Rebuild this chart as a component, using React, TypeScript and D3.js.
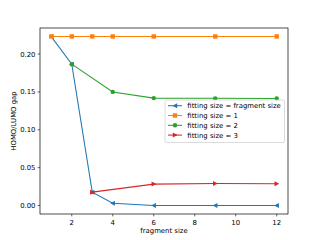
import React from "react";
import * as d3 from "d3";

const xBlue = [1, 2, 3, 4, 6, 9, 12];
const yBlue = [0.223, 0.1866, 0.0177, 0.003, 0.0, 0.0, 0.0];
const xOrange = [1, 2, 3, 4, 6, 9, 12];
const yOrange = [0.2232, 0.2232, 0.2232, 0.2232, 0.2232, 0.2232, 0.2232];
const xGreen = [2, 4, 6, 9, 12];
const yGreen = [0.1866, 0.150, 0.1418, 0.1415, 0.1413];
const xRed = [3, 6, 9, 12];
const yRed = [0.0177, 0.0283, 0.029, 0.0287];
const seriesNames = ["fitting size = fragment size", "fitting size = 1", "fitting size = 2", "fitting size = 3"];
const xTicks = [2, 4, 6, 8, 10, 12];
const yTicks = [0.0, 0.05, 0.1, 0.15, 0.2];

const colors = ["#1f77b4", "#ff7f0e", "#2ca02c", "#d62728"];
const markers = ["tri-left", "square", "circle", "tri-right"];

function Marker({ type, x, y, color }: { type: string; x: number; y: number; color: string }) {
  const r = 2.2;
  if (type === "square") return <rect x={x - r} y={y - r} width={2 * r} height={2 * r} fill={color} />;
  if (type === "circle") return <circle cx={x} cy={y} r={r} fill={color} />;
  if (type === "tri-left")
    return <path d={`M${x - r - 0.4},${y} L${x + r},${y - r - 0.3} L${x + r},${y + r + 0.3} Z`} fill={color} />;
  return <path d={`M${x + r + 0.4},${y} L${x - r},${y - r - 0.3} L${x - r},${y + r + 0.3} Z`} fill={color} />;
}

export default function App() {
  const L = 40, R = 288, T = 28, B = 214;
  const x = d3.scaleLinear().domain([0.45, 12.55]).range([L, R]);
  const y = d3.scaleLinear().domain([-0.01116, 0.23436]).range([B, T]);
  const series = [
    { xs: xBlue, ys: yBlue },
    { xs: xOrange, ys: yOrange },
    { xs: xGreen, ys: yGreen },
    { xs: xRed, ys: yRed },
  ];
  const line = d3.line<[number, number]>().x((d) => x(d[0])).y((d) => y(d[1]));
  const font = "DejaVu Sans";
  const fs = 6.9;
  const legX = 165, legY = 100, legW = 119.5, legH = 42.5;
  return (
    <svg width={320} height={240} style={{ position: "absolute", left: 0, top: 0 }} fontFamily={font}>
      <rect x={0} y={0} width={320} height={240} fill="#fff" />
      {series.map((s, i) => {
        const pts = s.xs.map((v, j) => [v, s.ys[j]] as [number, number]);
        return (
          <g key={i}>
            <path d={line(pts) || ""} fill="none" stroke={colors[i]} strokeWidth={1.05} />
            {pts.map((p, j) => (
              <Marker key={j} type={markers[i]} x={x(p[0])} y={y(p[1])} color={colors[i]} />
            ))}
          </g>
        );
      })}
      <rect x={L} y={T} width={R - L} height={B - T} fill="none" stroke="#000" strokeWidth={0.7} />
      {xTicks.map((t) => (
        <g key={t}>
          <line x1={x(t)} x2={x(t)} y1={B} y2={B + 2.4} stroke="#000" strokeWidth={0.6} />
          <text x={x(t)} y={B + 10.5} fontSize={fs} textAnchor="middle" fill="#000">{t}</text>
        </g>
      ))}
      {yTicks.map((t) => (
        <g key={t}>
          <line x1={L - 2.4} x2={L} y1={y(t)} y2={y(t)} stroke="#000" strokeWidth={0.6} />
          <text x={L - 4.5} y={y(t) + 2.5} fontSize={fs} textAnchor="end" fill="#000">{t.toFixed(2)}</text>
        </g>
      ))}
      <text x={(L + R) / 2} y={233} fontSize={fs} textAnchor="middle" fill="#000">fragment size</text>
      <text transform={`translate(15.5,${(T + B) / 2}) rotate(-90)`} fontSize={fs} textAnchor="middle" fill="#000">HOMO/LUMO gap</text>
      <rect x={legX} y={legY} width={legW} height={legH} fill="#fff" fillOpacity={0.8} stroke="#ccc" strokeWidth={0.7} rx={1.5} />
      {seriesNames.map((n, i) => {
        const cy = 105.7 + i * 9.8;
        return (
          <g key={n}>
            <line x1={168} x2={182} y1={cy} y2={cy} stroke={colors[i]} strokeWidth={1.05} />
            <Marker type={markers[i]} x={175} y={cy} color={colors[i]} />
            <text x={187.3} y={cy + 2.4} fontSize={fs} fill="#000">{n}</text>
          </g>
        );
      })}
    </svg>
  );
}
